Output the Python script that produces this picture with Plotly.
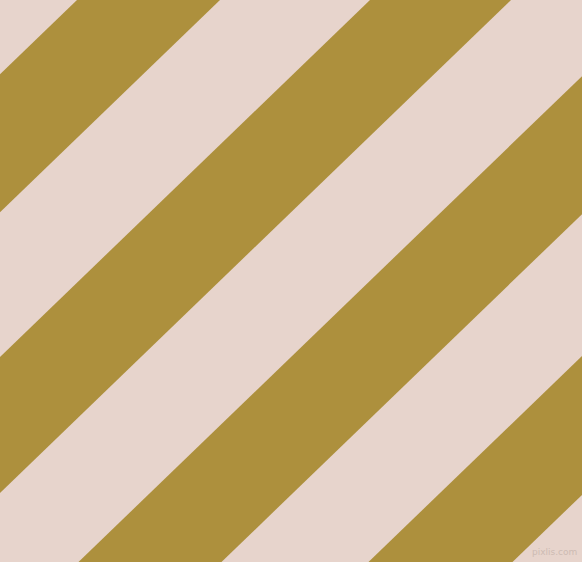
import plotly.graph_objects as go

# stripe boundaries, measured as x + slope*y along the top edge (pixels)
stripe_starts = [77, 370, 661, 951]
stripe_ends = [220, 511, 804, 1095]
slope = 1.0365

W, H = 582, 562
pink = "#E7D4CC"
olive = "#AD903D"

fig = go.Figure()
for c1, c2 in zip(stripe_starts, stripe_ends):
    y0, y1 = -100, H + 100
    xs = [c1 - slope * y0, c2 - slope * y0, c2 - slope * y1, c1 - slope * y1]
    ys = [y0, y0, y1, y1]
    fig.add_trace(go.Scatter(x=xs, y=ys, fill="toself", mode="none",
                             fillcolor=olive, hoverinfo="skip", showlegend=False))

fig.add_annotation(x=W - 3, y=H - 3, xanchor="right", yanchor="bottom",
                   text="pixlis.com", showarrow=False,
                   font=dict(family="DejaVu Sans", size=9, color="#CDBBB3"))

fig.update_layout(
    width=W, height=H,
    margin=dict(l=0, r=0, t=0, b=0),
    plot_bgcolor=pink, paper_bgcolor=pink,
    xaxis=dict(range=[0, W], visible=False, fixedrange=True),
    yaxis=dict(range=[H, 0], visible=False, fixedrange=True),
)
fig.write_html("out.html", config={"displayModeBar": False},
               post_script="document.body.style.margin='0';"
                           "document.body.style.overflow='hidden';")
